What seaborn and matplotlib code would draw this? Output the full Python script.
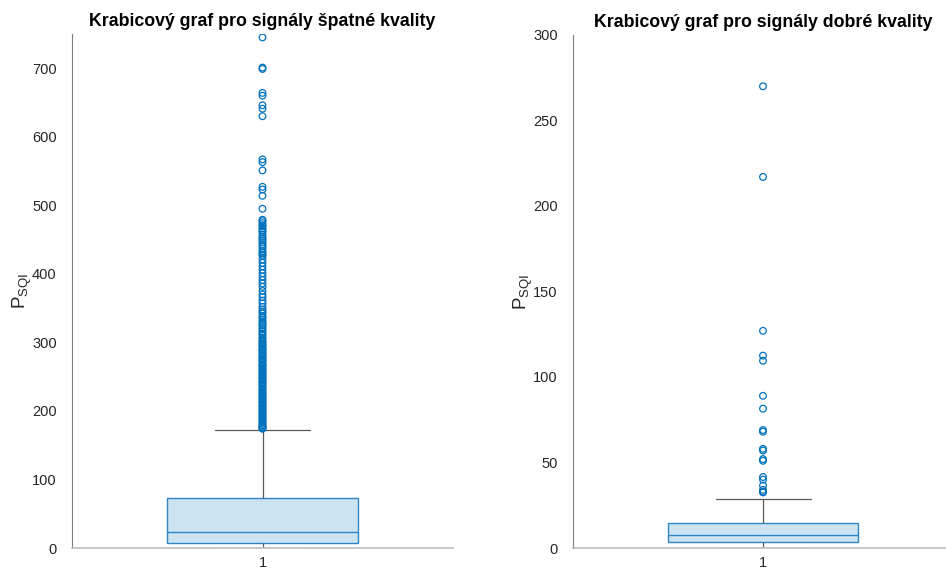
import matplotlib
matplotlib.use("Agg")
import matplotlib.pyplot as plt
import seaborn as sns
import pandas as pd

# ---------------- data ----------------
group_label = "1"

# box statistics: [lower whisker, Q1, median, Q3, upper whisker]
bad_box = [0.0, 6.8, 22.9, 73.5, 172.4]
good_box = [0.0, 3.7, 7.8, 14.4, 28.8]

bad_outliers = [
    745, 701, 699, 664, 660, 646, 641, 630, 567, 563, 551, 527, 523, 514, 495,
    479, 477, 474, 471, 469, 466, 463, 461, 457, 454, 451, 449, 446, 443, 440,
    437, 433, 431, 428, 426, 421, 416, 411, 406, 401, 396, 391, 386, 381, 375,
    370, 366, 361, 357, 352, 348, 345, 342, 338, 336, 333, 330, 327, 325, 322,
    319, 316, 313, 311, 307, 305, 302, 300, 298, 296, 294, 291, 289, 288, 285,
    283, 281, 279, 277, 275, 273, 271, 268, 266, 265, 262, 260, 258, 256, 254,
    252, 250, 248, 246, 244, 242, 240, 238, 236, 233, 231, 229, 227, 225, 223,
    221, 219, 217, 215, 213, 211, 209, 207, 205, 203, 201, 199, 197, 195, 193,
    191, 189, 187, 185, 183, 181, 179, 177, 176, 175, 174,
]
good_outliers = [270, 217, 127, 112.5, 109.5, 89, 81.5, 69, 68, 58, 57, 52,
                 51, 41.5, 40, 36.5, 34, 33, 32.5]

titles = ["Krabicový graf pro signály špatné kvality",
          "Krabicový graf pro signály dobré kvality"]
ylims = [(0, 750), (0, 300)]
yticks = [[0, 100, 200, 300, 400, 500, 600, 700],
          [0, 50, 100, 150, 200, 250, 300]]

# ---------------- style ----------------
sns.set_theme(style="white")
plt.rcParams["font.family"] = ["Liberation Sans", "DejaVu Sans"]
plt.rcParams["mathtext.fontset"] = "custom"
plt.rcParams["mathtext.rm"] = "Liberation Sans"

BLUE = "#0072BD"
EDGE = "#2f86c6"
FILL = "#CCE3F2"
WHISK = "#5a5a5a"
TXT = "#262626"

fig = plt.figure(figsize=(9.46, 5.71), dpi=100)
W, H = 946, 571
ax1 = fig.add_axes([72 / W, (H - 548) / H, 381 / W, 514 / H])
ax2 = fig.add_axes([573 / W, (H - 548) / H, 380 / W, 513 / H])

for ax, box, outl, title, yl, yt in zip(
        [ax1, ax2], [bad_box, good_box], [bad_outliers, good_outliers],
        titles, ylims, yticks):
    dfb = pd.DataFrame({"g": [group_label] * len(box), "v": box})
    sns.boxplot(data=dfb, x="g", y="v", ax=ax, width=0.5, whis=(0, 100),
                showfliers=False, linewidth=1.0,
                boxprops=dict(facecolor=FILL, edgecolor=EDGE),
                medianprops=dict(color=EDGE, linewidth=1.0),
                whiskerprops=dict(color=WHISK, linewidth=0.9),
                capprops=dict(color=WHISK, linewidth=0.9))
    dfo = pd.DataFrame({"g": [group_label] * len(outl), "v": outl})
    sns.stripplot(data=dfo, x="g", y="v", ax=ax, jitter=False, size=4.8,
                  color=BLUE, linewidth=0.9, edgecolor=BLUE)
    pts = ax.collections[-1]
    pts.set_facecolor("none")
    pts.set_edgecolor(BLUE)

    ax.set_xlim(-0.5, 0.5)
    ax.set_ylim(*yl)
    ax.set_yticks(yt)
    ax.set_xlabel("")
    ax.set_ylabel(r"P$_{\mathregular{SQI}}$", fontsize=13.5, color=TXT,
                  labelpad=-1.5)
    ax.set_title(title, fontsize=12.8, fontweight="bold", color="black", pad=6)
    ax.tick_params(axis="both", direction="in", length=4, width=0.7,
                   labelsize=10.5, colors="#7f7f7f", labelcolor=TXT, pad=11)
    ax.tick_params(axis="x", length=0, pad=6)
    sns.despine(ax=ax)
    ax.spines["left"].set_color("#7f7f7f")
    ax.spines["left"].set_linewidth(0.8)
    ax.spines["bottom"].set_color("#bdbdbd")
    ax.spines["bottom"].set_linewidth(1.2)
    ax.set_facecolor("white")

fig.savefig("out.png", dpi=100, facecolor="white")
